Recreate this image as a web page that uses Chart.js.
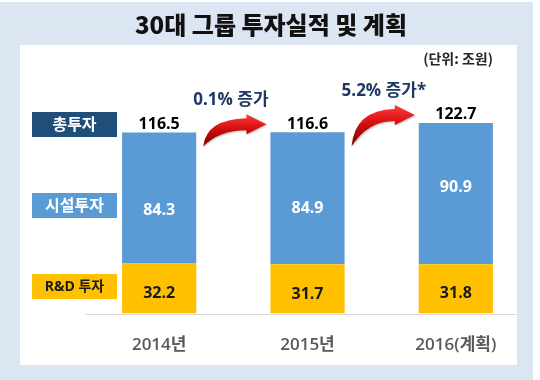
<!DOCTYPE html>
<html><head><meta charset="utf-8">
<script src="https://cdn.jsdelivr.net/npm/chart.js@4/dist/chart.umd.min.js"></script>
<style>html,body{margin:0;padding:0;background:#fff;}#wrap{width:540px;height:380px;position:relative;}</style>
</head><body><div id="wrap"><canvas id="c" width="540" height="380"></canvas></div>
<script>
// ---- data ----
const categories = ['2014년', '2015년', '2016(계획)'];
const rndValues = [32.2, 31.7, 31.8];
const facilityValues = [84.3, 84.9, 90.9];
const totalValues = [116.5, 116.6, 122.7];
const growthLabels = ['0.1% 증가', '5.2% 증가*'];
const seriesNames = ['R&D 투자', '시설투자', '총투자'];
const titleText = '30대 그룹 투자실적 및 계획';
const unitText = '(단위: 조원)';

// ---- styles ----
const NAVY = '#1f4e79', BLUE = '#5b9bd5', YELLOW = '#ffc000', FRAME = '#dce6f2';
const FONT = '"Open Sans", "Noto Sans CJK KR", sans-serif';
const KFONT = '"Noto Sans CJK KR", "Open Sans", sans-serif';
const midLabelNudge = [12, 10, -6];

function drawArrow(ctx, tx, ty, hx, hy) {
  const hl = 20, hw = 10, bw = 6;
  const bx = hx - hl;
  ctx.save();
  ctx.beginPath();
  ctx.moveTo(tx, ty);
  ctx.quadraticCurveTo(tx + 3, hy - bw + 1, bx, hy - bw);
  ctx.lineTo(bx, hy - hw);
  ctx.lineTo(hx, hy);
  ctx.lineTo(bx, hy + hw);
  ctx.lineTo(bx, hy + bw);
  ctx.quadraticCurveTo(tx + 16, hy + bw, tx, ty);
  ctx.closePath();
  const g = ctx.createLinearGradient(0, hy - hw, 0, ty);
  g.addColorStop(0, '#ff3b3b');
  g.addColorStop(0.45, '#d40d0d');
  g.addColorStop(1, '#7a0000');
  ctx.fillStyle = g;
  ctx.shadowColor = 'rgba(0,0,0,0.25)';
  ctx.shadowBlur = 2;
  ctx.shadowOffsetX = 1;
  ctx.shadowOffsetY = 1;
  ctx.fill();
  ctx.restore();
}

const decor = {
  id: 'decor',
  beforeDraw(chart) {
    const ctx = chart.ctx;
    ctx.save();
    ctx.fillStyle = '#ffffff';
    ctx.fillRect(0, 0, 540, 380);
    ctx.fillStyle = FRAME;
    ctx.fillRect(0, 2, 533, 378);
    ctx.fillStyle = '#ffffff';
    ctx.fillRect(20, 45, 497, 320);
    // title
    ctx.fillStyle = '#111111';
    ctx.font = '900 24px ' + KFONT;
    ctx.textAlign = 'center';
    ctx.textBaseline = 'middle';
    ctx.fillText(titleText, 271, 25);
    // unit
    ctx.font = 'bold 14px ' + KFONT;
    ctx.fillStyle = '#262626';
    ctx.textAlign = 'right';
    ctx.fillText(unitText, 493, 59);
    // series label boxes
    const boxes = [
      {t: seriesNames[2], y: 112, fill: NAVY, color: '#ffffff', size: 16},
      {t: seriesNames[1], y: 193, fill: BLUE, color: '#ffffff', size: 16},
      {t: seriesNames[0], y: 274, fill: YELLOW, color: '#1a1a1a', size: 14}
    ];
    boxes.forEach(b => {
      ctx.fillStyle = b.fill;
      ctx.fillRect(32, b.y, 85, 25);
      ctx.fillStyle = b.color;
      ctx.font = 'bold ' + b.size + 'px ' + FONT;
      ctx.textAlign = 'center';
      ctx.fillText(b.t, 74.5, b.y + 13);
    });
    ctx.restore();
  },
  beforeDatasetsDraw(chart) {
    const ctx = chart.ctx, a = chart.chartArea;
    ctx.save();
    ctx.strokeStyle = '#d9d9d9';
    ctx.lineWidth = 1;
    ctx.beginPath();
    ctx.moveTo(a.left, Math.round(a.bottom) + 0.5);
    ctx.lineTo(517, Math.round(a.bottom) + 0.5);
    ctx.stroke();
    ctx.restore();
  },
  afterDatasetsDraw(chart) {
    const ctx = chart.ctx;
    const low = chart.getDatasetMeta(0).data;
    const up = chart.getDatasetMeta(1).data;
    ctx.save();
    ctx.textAlign = 'center';
    ctx.textBaseline = 'middle';
    ctx.font = 'bold 16px ' + FONT;
    for (let i = 0; i < categories.length; i++) {
      const lb = low[i], ub = up[i];
      ctx.fillStyle = '#1a1a1a';
      ctx.fillText(rndValues[i].toFixed(1), lb.x, (lb.y + lb.base) / 2 + 5);
      ctx.fillStyle = '#ffffff';
      ctx.fillText(facilityValues[i].toFixed(1), ub.x, (ub.y + ub.base) / 2 + midLabelNudge[i]);
      ctx.fillStyle = '#000000';
      ctx.fillText(totalValues[i].toFixed(1), ub.x, ub.y - 8);
    }
    // growth arrows
    for (let i = 0; i < categories.length - 1; i++) {
      const b1 = up[i], b2 = up[i + 1];
      const r1 = b1.x + b1.width / 2, l2 = b2.x - b2.width / 2;
      drawArrow(ctx, r1 + 7, b1.y + 14, l2 - 4, b2.y - 8);
      ctx.fillStyle = '#1f3864';
      ctx.font = 'bold 17px ' + FONT;
      ctx.textAlign = 'left';
      ctx.fillText(growthLabels[i], r1 - 3, Math.min(b1.y, b2.y) - 32);
    }
    ctx.restore();
  }
};

new Chart(document.getElementById('c'), {
  type: 'bar',
  data: {
    labels: categories,
    datasets: [
      {label: seriesNames[0], data: rndValues, backgroundColor: YELLOW},
      {label: seriesNames[1], data: facilityValues, backgroundColor: BLUE}
    ]
  },
  options: {
    responsive: false,
    devicePixelRatio: 1,
    animation: false,
    layout: {padding: {left: 85, right: 10, top: 96, bottom: 4}},
    datasets: {bar: {categoryPercentage: 1, barPercentage: 0.5}},
    plugins: {legend: {display: false}, tooltip: {enabled: false}, title: {display: false}},
    scales: {
      x: {
        stacked: true,
        grid: {display: false, drawTicks: false},
        border: {display: false},
        ticks: {color: '#595959', font: {family: FONT, size: 17, weight: '600'}, padding: 21}
      },
      y: {stacked: true, display: false, min: 0, max: 140}
    }
  },
  plugins: [decor]
});
</script></body></html>
